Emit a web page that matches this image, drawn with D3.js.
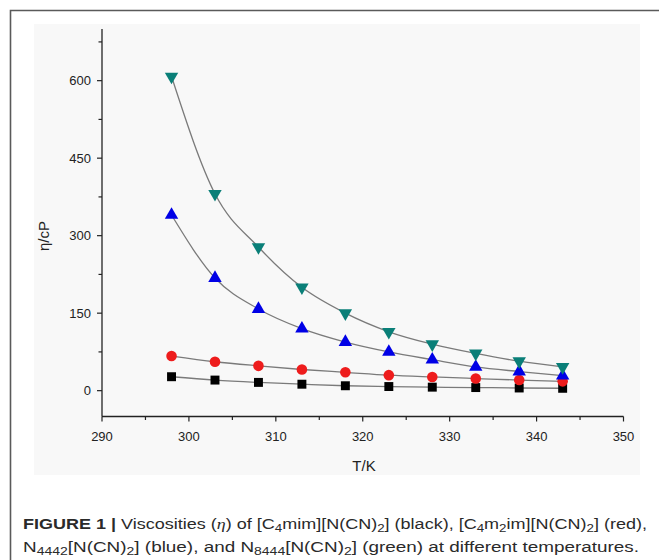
<!DOCTYPE html>
<html><head><meta charset="utf-8">
<script src="https://cdn.jsdelivr.net/npm/d3@7"></script>
<style>body{margin:0;background:#fff}svg{display:block}</style>
</head><body>
<script>
const temps = [298, 303, 308, 313, 318, 323, 328, 333, 338, 343];
const blackVals = [27, 20.5, 16, 12.5, 9.5, 8, 6.8, 6, 5.2, 4.6];
const redVals = [67, 56, 48, 41, 35.5, 30, 26.5, 23.5, 20.5, 18];
const blueVals = [340, 218, 158, 120, 94, 75, 60, 46, 37, 29];
const greenVals = [608, 381, 278, 200, 150, 114, 90, 72, 57, 46];
const xTicks = [290, 300, 310, 320, 330, 340, 350];
const yTicks = [0, 150, 300, 450, 600];
const seriesNames = ["black", "red", "blue", "green"];
const seriesColors = ["#000000", "#ee1c1c", "#0000e6", "#0a7f78"];
const seriesSymbols = ["square", "circle", "up", "down"];

const W = 659, H = 560;
const svg = d3.select("body").append("svg").attr("width", W).attr("height", H);

// outer frame
svg.append("path").attr("d", "M10.5,560 L10.5,10.5 L659,10.5")
  .attr("fill", "none").attr("stroke", "#5a5a5a").attr("stroke-width", 1.6);
// panel
svg.append("rect").attr("x", 34).attr("y", 24).attr("width", 606).attr("height", 451).attr("fill", "#f8f8f8");

const x = d3.scaleLinear().domain([290, 350]).range([102, 623.5]);
const y = d3.scaleLinear().domain([-50, 700]).range([416.5, 29]);

const font = "'Liberation Sans', Arial, sans-serif";
const axisColor = "#222";

// axes
const gx = svg.append("g").attr("transform", `translate(0,${y(-50)})`);
gx.append("line").attr("x1", x(290)).attr("x2", x(350)).attr("stroke", axisColor).attr("stroke-width", 1.3);
d3.range(290, 351, 5).forEach(v => {
  const major = v % 10 === 0;
  gx.append("line").attr("x1", x(v)).attr("x2", x(v)).attr("y1", 0).attr("y2", major ? 5 : 3.5)
    .attr("stroke", axisColor).attr("stroke-width", 1.2);
});
xTicks.forEach(v => {
  gx.append("text").attr("x", x(v)).attr("y", 24.5).attr("text-anchor", "middle")
    .attr("font-family", font).attr("font-size", 13).attr("fill", axisColor).text(v);
});

const gy = svg.append("g").attr("transform", `translate(${x(290)},0)`);
gy.append("line").attr("y1", y(-50)).attr("y2", y(700)).attr("stroke", axisColor).attr("stroke-width", 1.3);
d3.range(0, 700, 75).forEach(v => {
  const major = v % 150 === 0;
  gy.append("line").attr("y1", y(v)).attr("y2", y(v)).attr("x1", 0).attr("x2", major ? -5 : -3.5)
    .attr("stroke", axisColor).attr("stroke-width", 1.2);
});
yTicks.forEach(v => {
  gy.append("text").attr("x", -11).attr("y", y(v)).attr("dy", "0.36em").attr("text-anchor", "end")
    .attr("font-family", font).attr("font-size", 13).attr("fill", axisColor).text(v);
});

// axis titles
svg.append("text").attr("x", 364).attr("y", 471).attr("text-anchor", "middle")
  .attr("font-family", font).attr("font-size", 15).attr("fill", axisColor).text("T/K");
svg.append("text").attr("transform", "translate(49,236) rotate(-90)").attr("text-anchor", "middle")
  .attr("font-family", font).attr("font-size", 15).attr("fill", axisColor).text("η/cP");

// series
const allVals = [blackVals, redVals, blueVals, greenVals];
const line = d3.line().x((d, i) => x(temps[i])).y(d => y(d)).curve(d3.curveMonotoneX);
allVals.forEach(vals => {
  svg.append("path").attr("d", line(vals)).attr("fill", "none").attr("stroke", "#7a7a7a").attr("stroke-width", 1.3);
});
const symMap = {square: d3.symbolSquare, circle: d3.symbolCircle, up: d3.symbolTriangle, down: d3.symbolTriangle};
const sizeMap = {square: 80, circle: 88, up: 78, down: 78};
allVals.forEach((vals, si) => {
  const sym = seriesSymbols[si];
  const gen = d3.symbol().type(symMap[sym]).size(sizeMap[sym]);
  svg.append("g").selectAll("path").data(vals).join("path")
    .attr("d", gen())
    .attr("transform", (d, i) => `translate(${x(temps[i])},${y(d)})` + (sym === "down" ? " rotate(180)" : ""))
    .attr("fill", seriesColors[si]);
});

// caption
const cap = svg.append("g").attr("font-family", font).attr("fill", "#2a2a2a").attr("font-size", 15.5);
const t1 = cap.append("text").attr("x", 23).attr("y", 529).attr("textLength", 624).attr("lengthAdjust", "spacingAndGlyphs");
t1.append("tspan").attr("font-weight", "bold").text("FIGURE 1 | ");
t1.append("tspan").text("Viscosities (");
t1.append("tspan").attr("font-style", "italic").attr("font-family", "'Liberation Serif', serif").text("η");
t1.append("tspan").text(") of [C");
t1.append("tspan").attr("font-size", 11.5).attr("dy", 3).text("4");
t1.append("tspan").attr("dy", -3).text("mim][N(CN)");
t1.append("tspan").attr("font-size", 11.5).attr("dy", 3).text("2");
t1.append("tspan").attr("dy", -3).text("] (black), [C");
t1.append("tspan").attr("font-size", 11.5).attr("dy", 3).text("4");
t1.append("tspan").attr("dy", -3).text("m");
t1.append("tspan").attr("font-size", 11.5).attr("dy", 3).text("2");
t1.append("tspan").attr("dy", -3).text("im][N(CN)");
t1.append("tspan").attr("font-size", 11.5).attr("dy", 3).text("2");
t1.append("tspan").attr("dy", -3).text("] (red),");

const t2 = cap.append("text").attr("x", 23).attr("y", 552).attr("textLength", 616).attr("lengthAdjust", "spacingAndGlyphs");
t2.append("tspan").text("N");
t2.append("tspan").attr("font-size", 11.5).attr("dy", 3).text("4442");
t2.append("tspan").attr("dy", -3).text("[N(CN)");
t2.append("tspan").attr("font-size", 11.5).attr("dy", 3).text("2");
t2.append("tspan").attr("dy", -3).text("] (blue), and N");
t2.append("tspan").attr("font-size", 11.5).attr("dy", 3).text("8444");
t2.append("tspan").attr("dy", -3).text("[N(CN)");
t2.append("tspan").attr("font-size", 11.5).attr("dy", 3).text("2");
t2.append("tspan").attr("dy", -3).text("] (green) at different temperatures.");
</script>
</body></html>
